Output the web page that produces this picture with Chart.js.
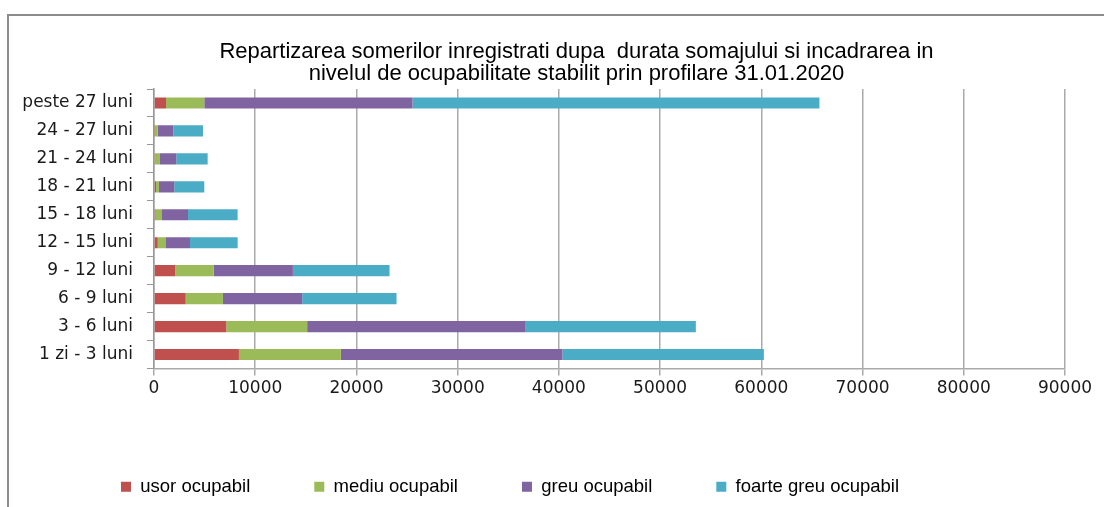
<!DOCTYPE html>
<html>
<head>
<meta charset="utf-8">
<script src="https://cdn.jsdelivr.net/npm/chart.js@4"></script>
<style>
  html, body { margin: 0; padding: 0; background: #ffffff; }
  #wrap { position: relative; width: 1104px; height: 507px; }
</style>
</head>
<body>
<div id="wrap"><canvas id="c" width="1104" height="507"></canvas></div>
<script>
const categories = ['1 zi - 3 luni', '3 - 6 luni', '6 - 9 luni', '9 - 12 luni', '12 - 15 luni',
                    '15 - 18 luni', '18 - 21 luni', '21 - 24 luni', '24 - 27 luni', 'peste 27 luni'];
const seriesNames = ['usor ocupabil', 'mediu ocupabil', 'greu ocupabil', 'foarte greu ocupabil'];
const usorOcupabil      = [8390, 7140, 3130, 2100, 370, 150, 200, 60, 50, 1190];
const mediuOcupabil     = [10070, 7990, 3680, 3790, 815, 640, 290, 530, 310, 3780];
const greuOcupabil      = [21890, 21590, 7830, 7830, 2370, 2570, 1510, 1610, 1550, 20570];
const foarteGreuOcupabil = [19900, 16810, 9320, 9550, 4710, 4900, 2970, 3100, 2930, 40200];
const xTicks = { min: 0, max: 90000, step: 10000 };
const titleLines = ['Repartizarea somerilor inregistrati dupa  durata somajului si incadrarea in',
                    'nivelul de ocupabilitate stabilit prin profilare 31.01.2020'];

const colors = ['#C0504D', '#9BBB59', '#8064A2', '#4BACC6'];
const seriesData = [usorOcupabil, mediuOcupabil, greuOcupabil, foarteGreuOcupabil];

const frame = {
  id: 'frame',
  beforeDraw(chart) {
    const ctx = chart.ctx;
    ctx.save();
    ctx.strokeStyle = '#8c8c8c';
    ctx.lineWidth = 2;
    ctx.beginPath();
    ctx.moveTo(1104, 15);
    ctx.lineTo(8, 15);
    ctx.lineTo(8, 507);
    ctx.stroke();
    ctx.restore();
  }
};
const boxShift = {
  id: 'boxShift',
  afterLayout(chart) {
    const lg = chart.legend;
    if (lg) { const w = lg.right - lg.left; lg.left = 57; lg.right = 57 + w; }
    const tb = chart.titleBlock;
    if (tb) { tb.left += 44; tb.right += 44; }
  }
};

new Chart(document.getElementById('c'), {
  type: 'bar',
  data: {
    labels: categories,
    datasets: seriesNames.map((n, i) => ({
      label: n,
      data: seriesData[i],
      backgroundColor: colors[i],
      borderWidth: 0,
      barPercentage: 0.4,
      categoryPercentage: 1.0
    }))
  },
  options: {
    indexAxis: 'y',
    responsive: false,
    animation: false,
    devicePixelRatio: 1,
    layout: { padding: { left: 0, right: 39, top: 0, bottom: 1 } },
    plugins: {
      title: {
        display: true,
        text: titleLines,
        color: '#000000',
        font: { family: 'Liberation Sans', size: 22, weight: 'normal', lineHeight: 1.0 },
        padding: { top: 41, bottom: 4 }
      },
      legend: {
        position: 'bottom',
        align: 'start',
        labels: {
          boxWidth: 10, boxHeight: 10,
          padding: 64,
          color: '#000000',
          font: { family: 'Liberation Sans', size: 18.5 }
        }
      },
      tooltip: { enabled: false }
    },
    scales: {
      x: {
        stacked: true,
        min: xTicks.min, max: xTicks.max,
        afterFit(scale) { scale.height = 45; },
        ticks: {
          stepSize: xTicks.step,
          color: '#1a1a1a',
          padding: 3,
          maxRotation: 0,
          font: { family: 'DejaVu Sans', size: 17 },
          callback: (v) => String(v)
        },
        grid: { color: '#aaaaaa', lineWidth: 1.5, tickLength: 7, drawTicks: true },
        border: { color: '#aaaaaa', width: 1.5 }
      },
      y: {
        stacked: true,
        reverse: true,
        afterFit(scale) { scale.width = 154; },
        ticks: {
          color: '#1a1a1a',
          padding: 14,
          font: { family: 'DejaVu Sans', size: 17 }
        },
        grid: { drawOnChartArea: false, drawTicks: true, tickLength: 7, color: '#999999', offset: true },
        border: { color: '#999999', width: 1.5 }
      }
    }
  },
  plugins: [frame, boxShift]
});
</script>
</body>
</html>
